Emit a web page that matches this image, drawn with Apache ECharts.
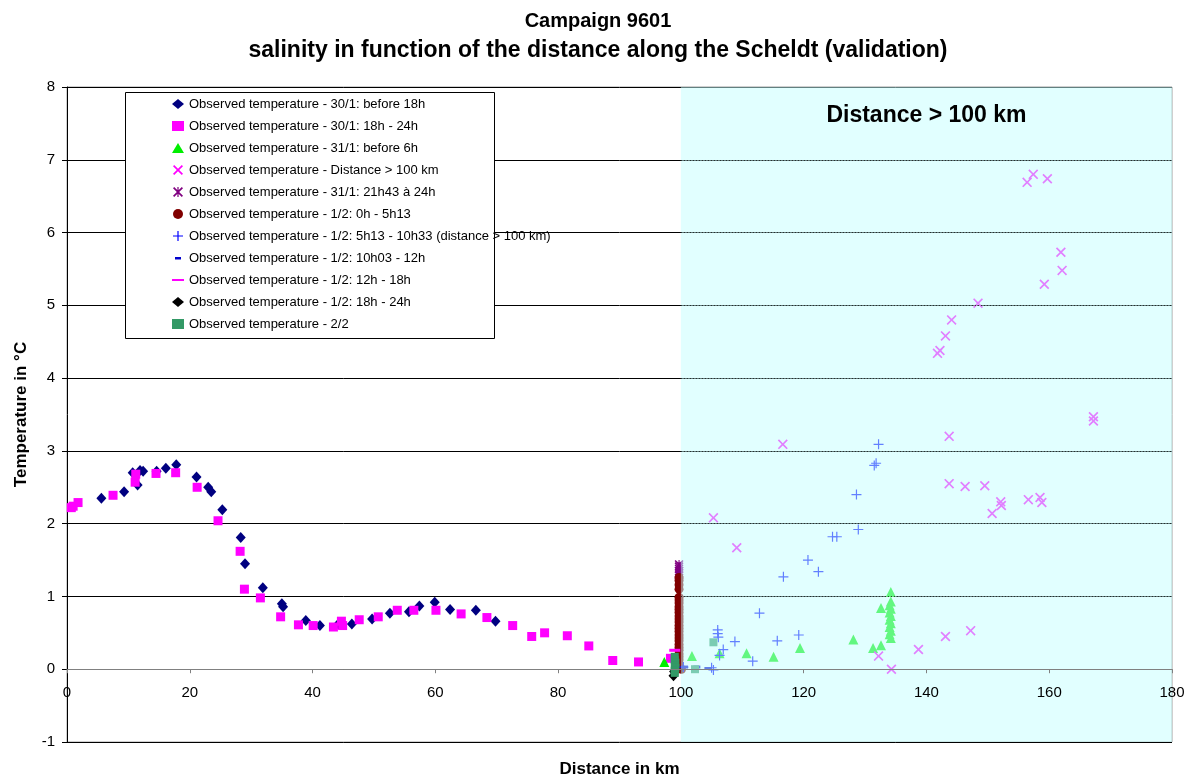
<!DOCTYPE html>
<html>
<head>
<meta charset="utf-8">
<script src="https://cdn.jsdelivr.net/npm/echarts@6/dist/echarts.min.js"></script>
<style>html,body{margin:0;padding:0;background:#fff}#c{width:1196px;height:783px}</style>
</head>
<body>
<div id="c"></div>
<script>
// ---- data (distance km, temperature °C) ----
const titleLine1 = 'Campaign 9601';
const titleLine2 = 'salinity in function of the distance along the Scheldt (validation)';
const xTicks = [0, 20, 40, 60, 80, 100, 120, 140, 160, 180];
const yTicks = [-1, 0, 1, 2, 3, 4, 5, 6, 7, 8];
const zoneStart = 100, zoneEnd = 180;
const zoneLabel = 'Distance > 100 km';

const s1Name = 'Observed temperature - 30/1: before 18h';
const s1 = [[5.6,2.35],[9.3,2.44],[10.7,2.70],[11.5,2.53],[11.9,2.73],[12.4,2.72],[14.6,2.72],[16.1,2.76],[17.8,2.81],[21.1,2.64],[23.0,2.50],[23.5,2.44],[25.3,2.19],[28.3,1.81],[29.0,1.45],[31.9,1.12],[35.0,0.90],[35.2,0.86],[38.9,0.67],[41.2,0.60],[44.2,0.62],[46.4,0.62],[49.7,0.69],[52.6,0.77],[55.7,0.79],[57.4,0.87],[59.9,0.92],[62.4,0.82],[66.6,0.81],[69.8,0.66]];

const s2Name = 'Observed temperature - 30/1: 18h - 24h';
const s2 = [[0.7,2.22],[1.0,2.24],[1.8,2.29],[7.5,2.39],[11.1,2.57],[11.2,2.68],[14.5,2.69],[17.7,2.70],[21.2,2.50],[24.6,2.04],[28.2,1.62],[28.9,1.10],[31.5,0.98],[34.8,0.72],[37.7,0.61],[40.1,0.60],[43.4,0.58],[44.7,0.66],[44.9,0.60],[47.6,0.68],[50.7,0.72],[53.8,0.81],[56.5,0.81],[60.1,0.81],[64.2,0.76],[68.4,0.71],[72.6,0.60],[75.7,0.45],[77.8,0.50],[81.5,0.46],[85.0,0.32],[88.9,0.12],[93.1,0.10],[98.3,0.15]];

const s3Name = 'Observed temperature - 31/1: before 6h';
const s3 = [[97.3,0.10],[101.8,0.18],[106.3,0.22],[110.7,0.22],[115.1,0.17],[119.4,0.29],[128.1,0.41],[131.3,0.29],[132.6,0.33],[132.6,0.84],[134.2,1.06],[134.2,0.93],[134.0,0.88],[134.2,0.83],[134.0,0.78],[134.2,0.73],[134.0,0.68],[134.2,0.63],[134.0,0.58],[134.2,0.53],[134.0,0.48],[134.2,0.43]];

const s4Name = 'Observed temperature - Distance > 100 km';
const s4 = [[105.3,2.08],[109.1,1.67],[116.6,3.09],[132.2,0.18],[138.7,0.27],[134.3,0.0],[141.8,4.34],[142.2,4.38],[143.1,4.58],[144.1,4.80],[148.4,5.03],[159.2,5.29],[162.1,5.48],[161.9,5.73],[156.4,6.69],[157.4,6.80],[159.7,6.74],[167.2,3.47],[167.2,3.41],[143.7,3.20],[143.7,2.55],[146.3,2.51],[149.5,2.52],[152.1,2.30],[152.2,2.25],[150.7,2.14],[156.6,2.33],[158.5,2.36],[158.8,2.29],[143.1,0.45],[147.2,0.53]];

const s5Name = 'Observed temperature - 31/1: 21h43 à 24h';
const s5 = [[99.7,1.44],[99.7,1.41],[99.7,1.38],[99.7,1.35],[99.7,1.32],[99.7,1.29]];

const s6Name = 'Observed temperature - 1/2: 0h - 5h13';
const s6 = [[99.7,1.26],[99.7,1.22],[99.7,1.16],[99.7,1.10],[99.7,0.99],[99.7,0.95],[99.7,0.91],[99.7,0.86],[99.7,0.82],[99.7,0.78],[99.7,0.73],[99.7,0.69],[99.7,0.65],[99.7,0.60],[99.7,0.56],[99.7,0.52],[99.7,0.47],[99.7,0.43],[99.7,0.39],[99.7,0.34],[99.7,0.30],[99.7,0.26],[99.7,0.21],[99.7,0.17],[99.7,0.13],[99.7,0.08],[99.7,0.04],[100.1,0.00]];

const s7Name = 'Observed temperature - 1/2: 5h13 - 10h33 (distance > 100 km)';
const s7 = [[100.4,0.03],[105.0,0.02],[105.3,-0.01],[106.0,0.54],[106.0,0.49],[106.1,0.44],[106.3,0.19],[106.9,0.27],[108.8,0.38],[111.7,0.11],[112.8,0.77],[115.7,0.39],[116.7,1.27],[119.2,0.47],[120.7,1.50],[122.4,1.34],[124.7,1.82],[125.4,1.82],[128.6,2.40],[128.9,1.92],[131.5,2.80],[131.8,2.83],[132.2,3.09]];

const s8Name = 'Observed temperature - 1/2: 10h03 - 12h';
const s8 = [[100.6,0.03],[102.6,0.03],[104.4,0.01]];

const s9Name = 'Observed temperature - 1/2: 12h - 18h';
const s9 = [[99.0,0.26]];

const s10Name = 'Observed temperature - 1/2: 18h - 24h';
const s10 = [[98.8,-0.09],[98.9,-0.03]];

const s11Name = 'Observed temperature - 2/2';
const s11 = [[99.0,0.17],[99.0,0.13],[99.1,0.09],[99.0,0.05],[99.1,0.02],[99.0,-0.02],[99.0,-0.05],[102.3,0.0],[105.3,0.37]];

// ---- symbols ----
const X_PATH = 'path://M0,1.2 L1.2,0 L5,3.8 L8.8,0 L10,1.2 L6.2,5 L10,8.8 L8.8,10 L5,6.2 L1.2,10 L0,8.8 L3.8,5 Z';
const PLUS_PATH = 'path://M4.4,0 H5.6 V4.4 H10 V5.6 H5.6 V10 H4.4 V5.6 H0 V4.4 H4.4 Z';
const AST_PATH = 'path://M0,1.2 L1.2,0 L5,3.8 L8.8,0 L10,1.2 L6.2,5 L10,8.8 L8.8,10 L5,6.2 L1.2,10 L0,8.8 L3.8,5 Z M4.4,0 H5.6 V10 H4.4 Z';
const SHORT_DASH = 'path://M0,0 L0,0 M3,4 H9 V6.5 H3 Z M12,10 L12,10';
const LONG_DASH = 'path://M0,0 L0,0 M0,4 H12 V6 H0 Z M12,10 L12,10';

const FONT = '"Liberation Sans", Arial, sans-serif';

const defs = [
  {name: s1Name, data: s1, symbol: 'diamond', size: [10, 11], color: '#000080'},
  {name: s2Name, data: s2, symbol: 'rect', size: 9, color: '#ff00ff'},
  {name: s3Name, data: s3, symbol: 'triangle', size: 10, color: '#00ee00'},
  {name: s4Name, data: s4, symbol: X_PATH, size: 10, color: '#ff00ff'},
  {name: s5Name, data: s5, symbol: AST_PATH, size: 9, color: '#800080'},
  {name: s6Name, data: s6, symbol: 'circle', size: 9, color: '#800000'},
  {name: s7Name, data: s7, symbol: PLUS_PATH, size: 10, color: '#0000ff'},
  {name: s8Name, data: s8, symbol: 'rect', size: [7, 3], color: '#0000cc', legendIcon: SHORT_DASH},
  {name: s9Name, data: s9, symbol: 'rect', size: [11, 3], color: '#ff00ff', legendIcon: LONG_DASH},
  {name: s10Name, data: s10, symbol: 'diamond', size: [10, 11], color: '#000000'},
  {name: s11Name, data: s11, symbol: 'rect', size: 8, color: '#339966'}
];

const series = defs.map(d => ({
  name: d.name, type: 'scatter', data: d.data,
  symbol: d.symbol, symbolSize: d.size,
  itemStyle: {color: d.color, opacity: 1},
  emphasis: {disabled: true}, z: 2
}));

// cyan overlay zone and dotted gridlines over it
series.push({
  name: 'zone', type: 'scatter', data: [], z: 10, silent: true,
  markArea: {
    silent: true, z: 10,
    itemStyle: {color: 'rgba(196,255,255,0.5)'},
    label: {show: true, position: 'insideTop', distance: 17, color: '#000', fontFamily: FONT, fontWeight: 'bold', fontSize: 23},
    data: [[{name: zoneLabel, xAxis: zoneStart, yAxis: yTicks[0]}, {xAxis: zoneEnd, yAxis: yTicks[yTicks.length - 1]}]]
  },
  markLine: {
    silent: true, z: 11, symbol: 'none', animation: false,
    label: {show: false},
    lineStyle: {color: '#222', type: [1, 2], width: 1},
    data: yTicks.filter(v => v > 0 && v < yTicks[yTicks.length - 1]).map(v => [{coord: [zoneStart, v]}, {coord: [zoneEnd, v]}])
  }
});

const legendData = defs.map(d => d.legendIcon ? {name: d.name, icon: d.legendIcon} : {name: d.name});

// grid geometry
const GRID = {left: 67, right: 24, top: 87, bottom: 41};
const gridH = 783 - GRID.top - GRID.bottom;
const yMin = yTicks[0], yMax = yTicks[yTicks.length - 1];
// place the x axis at y = 0 (crossing), measured up from the bottom of the grid
const xAxisOffset = -((0 - yMin) / (yMax - yMin)) * gridH;

const chart = echarts.init(document.getElementById('c'), null, {renderer: 'canvas'});
chart.setOption({
  animation: false,
  backgroundColor: '#fff',
  title: {
    text: '{a|' + titleLine1 + '}\n{b|' + titleLine2 + '}', left: 'center', top: 2,
    textStyle: {
      rich: {
        a: {fontFamily: FONT, fontWeight: 'bold', fontSize: 20, lineHeight: 29, color: '#000'},
        b: {fontFamily: FONT, fontWeight: 'bold', fontSize: 23, lineHeight: 29, color: '#000'}
      }
    }
  },
  graphic: [{
    type: 'rect', left: 125, top: 92, z: 3, silent: true,
    shape: {width: 369, height: 246},
    style: {fill: '#fff', stroke: '#000', lineWidth: 1}
  }],
  legend: {
    orient: 'vertical', left: 172, top: 96, padding: 0,
    itemWidth: 12, itemHeight: 10, itemGap: 6,
    textStyle: {fontFamily: FONT, fontSize: 13, color: '#000', lineHeight: 16},
    data: legendData, selectedMode: false, z: 5
  },
  grid: Object.assign({show: true, borderColor: '#a0a0a0', borderWidth: 1, backgroundColor: 'transparent', outerBoundsMode: 'none', containLabel: false}, GRID),
  xAxis: {
    type: 'value', min: xTicks[0], max: xTicks[xTicks.length - 1], interval: 20,
    position: 'bottom', offset: xAxisOffset, z: 12,
    name: 'Distance in km', nameLocation: 'middle', nameGap: 92,
    nameTextStyle: {fontFamily: FONT, fontWeight: 'bold', fontSize: 17, color: '#000'},
    axisLine: {onZero: false, lineStyle: {color: '#808080', width: 1}},
    axisTick: {show: true, length: 4, lineStyle: {color: '#808080'}},
    axisLabel: {fontFamily: FONT, fontSize: 15, color: '#000', margin: 16},
    splitLine: {show: false}
  },
  yAxis: {
    type: 'value', min: yMin, max: yMax, interval: 1,
    name: 'Temperature in °C', nameLocation: 'middle', nameGap: 37, nameRotate: 90,
    nameTextStyle: {fontFamily: FONT, fontWeight: 'bold', fontSize: 17, color: '#000'},
    axisLine: {show: true, onZero: false, lineStyle: {color: '#000', width: 1}},
    axisTick: {show: true, length: 5, lineStyle: {color: '#000'}},
    axisLabel: {fontFamily: FONT, fontSize: 15, color: '#000', margin: 12},
    splitLine: {show: true, lineStyle: {color: '#000', width: 1}}
  },
  series: series
});
</script>
</body>
</html>
